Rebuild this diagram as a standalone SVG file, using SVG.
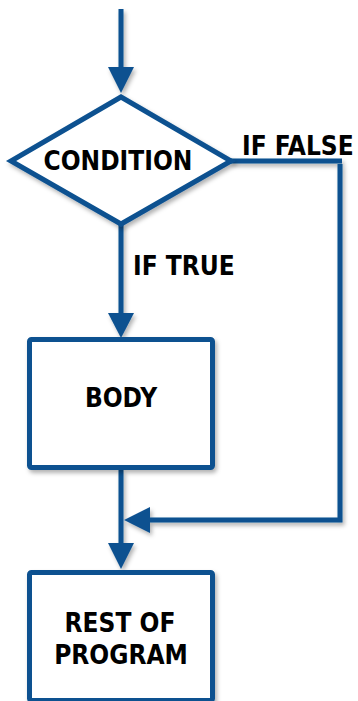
<svg xmlns="http://www.w3.org/2000/svg" width="358" height="701" viewBox="0 0 358 701">
  <defs>
    <filter id="sh" x="-20%" y="-20%" width="140%" height="140%">
      <feDropShadow dx="2" dy="3" stdDeviation="2" flood-color="#000" flood-opacity="0.3"/>
    </filter>
  </defs>
  <style>
    .ln { stroke: #0b5190; stroke-width: 5; fill: none; }
    .hd { fill: #0b5190; stroke: none; }
    .box { fill: #ffffff; stroke: #0b5190; stroke-width: 5; }
    .t { font-family: "DejaVu Sans Condensed", "DejaVu Sans", sans-serif; font-stretch: condensed; font-weight: bold; font-size: 26px; fill: #000; }
    .c { text-anchor: middle; }
  </style>
  <rect width="358" height="701" fill="#ffffff"/>
  <g id="connectors" filter="url(#sh)">
    <line class="ln" x1="121" y1="9" x2="121" y2="70"/>
    <polygon class="hd" points="108,67 134,67 121,93"/>
    <line class="ln" x1="121" y1="224" x2="121" y2="316"/>
    <polygon class="hd" points="108,313 134,313 121,338"/>
    <line class="ln" x1="121" y1="470" x2="121" y2="546"/>
    <polygon class="hd" points="108,543 134,543 121,569"/>
    <polyline class="ln" points="230,161 342,161"/>
    <polyline class="ln" points="340,164 340,520 147,520"/>
    <polygon class="hd" points="150,507 150,533 124,520"/>
  </g>
  <g id="condition">
    <polygon class="box" filter="url(#sh)" points="121,97 231,161 121,224 11,161"/>
    <text class="t c" x="118" y="170">CONDITION</text>
  </g>
  <g id="label-false">
    <text class="t" x="242" y="155">IF FALSE</text>
  </g>
  <g id="label-true">
    <text class="t" x="133" y="275">IF TRUE</text>
  </g>
  <g id="body">
    <rect class="box" filter="url(#sh)" x="29.5" y="339.5" width="183" height="128" rx="2"/>
    <text class="t c" x="121" y="407">BODY</text>
  </g>
  <g id="rest">
    <rect class="box" filter="url(#sh)" x="29.5" y="572.5" width="183" height="128" rx="2"/>
    <text class="t c" x="120" y="632">REST OF</text>
    <text class="t c" x="121" y="664">PROGRAM</text>
  </g>
</svg>
